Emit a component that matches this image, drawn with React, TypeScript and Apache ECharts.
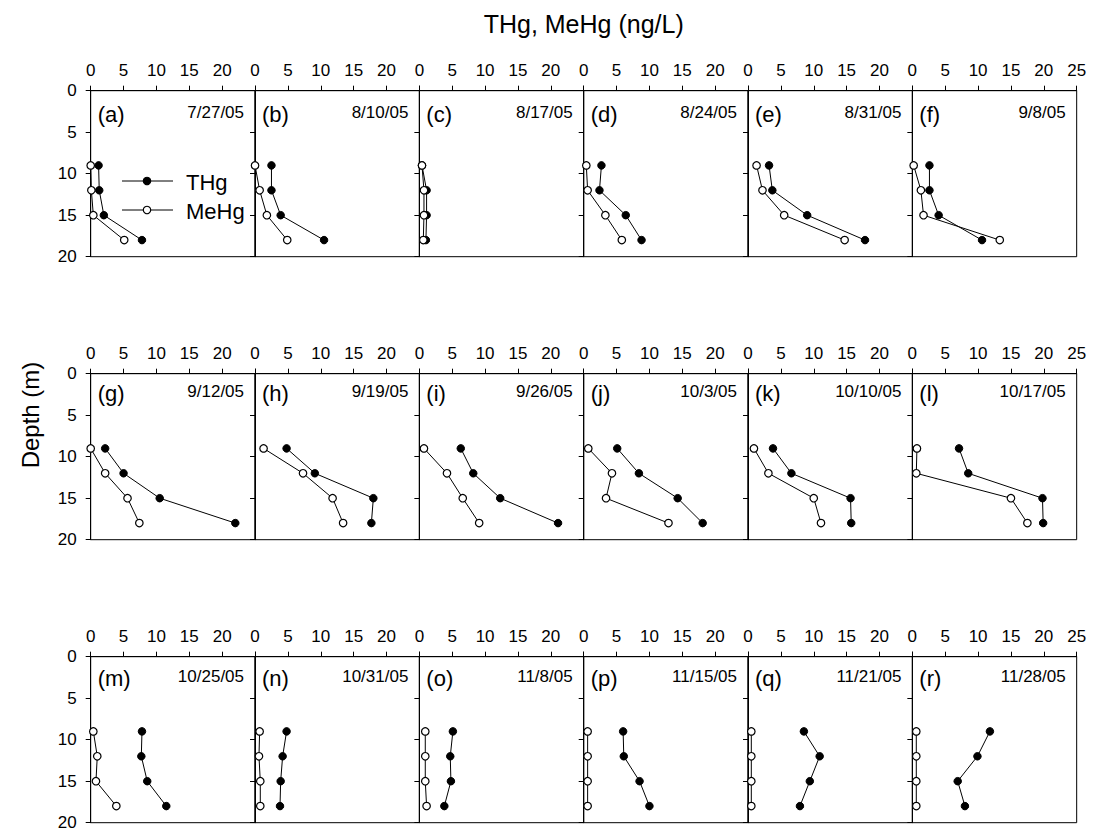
import React, { useEffect, useRef } from "react";
import * as echarts from "echarts";

const depths = [9, 12, 15, 18];
const panelLetters = ["a","b","c","d","e","f","g","h","i","j","k","l","m","n","o","p","q","r"];
const dates = ["7/27/05","8/10/05","8/17/05","8/24/05","8/31/05","9/8/05","9/12/05","9/19/05","9/26/05","10/3/05","10/10/05","10/17/05","10/25/05","10/31/05","11/8/05","11/15/05","11/21/05","11/28/05"];

const thg = [
  [1.2, 1.3, 2.0, 7.8],
  [2.5, 2.5, 3.9, 10.5],
  [0.4, 1.1, 1.1, 1.0],
  [2.7, 2.4, 6.4, 8.8],
  [3.2, 3.7, 9.0, 17.8],
  [2.6, 2.6, 4.0, 10.6],
  [2.2, 5.0, 10.5, 22.0],
  [4.8, 9.1, 18.0, 17.7],
  [6.3, 8.2, 12.3, 21.1],
  [5.1, 8.4, 14.3, 18.1],
  [3.8, 6.6, 15.6, 15.7],
  [7.1, 8.5, 19.8, 19.9],
  [7.8, 7.7, 8.6, 11.5],
  [4.8, 4.2, 3.9, 3.8],
  [5.1, 4.7, 4.8, 3.8],
  [6.0, 6.1, 8.5, 10.0],
  [8.5, 10.9, 9.4, 7.9],
  [11.8, 9.9, 6.9, 8.0],
];
const mehg = [
  [0, 0.1, 0.4, 5.1],
  [0, 0.7, 1.8, 4.9],
  [0.4, 0.7, 0.7, 0.6],
  [0.4, 0.6, 3.3, 5.8],
  [1.3, 2.2, 5.5, 14.7],
  [0.2, 1.3, 1.7, 13.3],
  [0, 2.2, 5.6, 7.4],
  [1.3, 7.3, 11.8, 13.4],
  [0.7, 4.2, 6.6, 9.1],
  [0.7, 4.3, 3.4, 12.9],
  [0.9, 3.1, 10.0, 11.1],
  [0.7, 0.6, 15.0, 17.5],
  [0.4, 1.0, 0.8, 3.9],
  [0.7, 0.6, 0.8, 0.8],
  [0.9, 0.9, 0.9, 1.1],
  [0.6, 0.6, 0.6, 0.6],
  [0.5, 0.5, 0.5, 0.5],
  [0.6, 0.6, 0.6, 0.6],
];
const xTicks = [0, 5, 10, 15, 20, 25];
const yTicks = [0, 5, 10, 15, 20];

const FONT = "'Liberation Sans', Arial, sans-serif";

export default function App() {
  const ref = useRef<HTMLDivElement>(null);
  useEffect(() => {
    document.body.style.margin = "0";
    const chart = echarts.init(ref.current!, null, { renderer: "svg" });
    const left0 = 90.7;
    const pw = 164.33;
    const tops = [90.7, 373.7, 656.7];
    const ph = 166;
    const grids: any[] = [];
    const xAxes: any[] = [];
    const yAxes: any[] = [];
    const series: any[] = [];
    const graphics: any[] = [];
    const labelOff = [24, 20, 22];
    for (let p = 0; p < 18; p++) {
      const row = Math.floor(p / 6);
      const col = p % 6;
      const left = left0 + col * pw;
      const top = tops[row];
      grids.push({ left, top, width: pw, height: ph, show: true, borderColor: "#000", borderWidth: 1, backgroundColor: "transparent" });
      xAxes.push({
        gridIndex: p, type: "value", position: "top", min: xTicks[0], max: xTicks[xTicks.length - 1], interval: 5,
        axisLine: { show: true, lineStyle: { color: "#000", width: 1 } },
        axisTick: { show: true, inside: false, length: 5, lineStyle: { color: "#000" } },
        splitLine: { show: false },
        axisLabel: {
          show: true, color: "#000", fontSize: 17, fontFamily: FONT, margin: 12,
          formatter: (v: number) => (col < 5 && v === 25 ? "" : String(v)),
        },
      });
      yAxes.push({
        gridIndex: p, type: "value", inverse: true, min: yTicks[0], max: yTicks[yTicks.length - 1], interval: 5,
        axisLine: { show: true, onZero: false, lineStyle: { color: "#000", width: 1 } },
        axisTick: { show: true, inside: false, length: 5, lineStyle: { color: "#000" } },
        splitLine: { show: false },
        axisLabel: { show: col === 0, color: "#000", fontSize: 17, fontFamily: FONT, margin: 14 },
      });
      series.push({
        type: "line", xAxisIndex: p, yAxisIndex: p, name: "THg",
        data: depths.map((d, i) => [thg[p][i], d]),
        symbol: "circle", symbolSize: 7.5,
        lineStyle: { color: "#000", width: 1 },
        itemStyle: { color: "#000", borderColor: "#000", borderWidth: 1 },
        clip: false, z: 2,
      });
      series.push({
        type: "line", xAxisIndex: p, yAxisIndex: p, name: "MeHg",
        data: depths.map((d, i) => [mehg[p][i], d]),
        symbol: "circle", symbolSize: 7.5,
        lineStyle: { color: "#000", width: 1 },
        itemStyle: { color: "#fff", borderColor: "#000", borderWidth: 1.2 },
        clip: false, z: 3,
      });
      graphics.push({
        type: "text", x: left + 7, y: top + labelOff[row],
        style: { text: "(" + panelLetters[p] + ")", font: `22px ${FONT}`, fill: "#000", textAlign: "left", textVerticalAlign: "middle" },
      });
      graphics.push({
        type: "text", x: left + pw - 11, y: top + labelOff[row] - 2,
        style: { text: dates[p], font: `17px ${FONT}`, fill: "#000", textAlign: "right", textVerticalAlign: "middle" },
      });
    }
    // legend in panel (a)
    const legendItems = [
      { name: "THg", y: 181, fill: "#000" },
      { name: "MeHg", y: 210, fill: "#fff" },
    ];
    legendItems.forEach((it) => {
      graphics.push({ type: "line", shape: { x1: 122, y1: it.y, x2: 173, y2: it.y }, style: { stroke: "#000", lineWidth: 1 } });
      graphics.push({ type: "circle", shape: { cx: 147, cy: it.y, r: 3.7 }, style: { fill: it.fill, stroke: "#000", lineWidth: 1.2 } });
      graphics.push({ type: "text", x: 186, y: it.y + 1, style: { text: it.name, font: `22px ${FONT}`, fill: "#000", textAlign: "left", textVerticalAlign: "middle" } });
    });
    graphics.push({ type: "text", x: 583.7, y: 24, style: { text: "THg, MeHg (ng/L)", font: `25px ${FONT}`, fill: "#000", textAlign: "center", textVerticalAlign: "middle" } });
    graphics.push({ type: "text", x: 30, y: 415, rotation: Math.PI / 2, style: { text: "Depth (m)", font: `24px ${FONT}`, fill: "#000", textAlign: "center", textVerticalAlign: "middle" } });

    chart.setOption({
      animation: false,
      backgroundColor: "#fff",
      grid: grids,
      xAxis: xAxes,
      yAxis: yAxes,
      series,
      graphic: graphics,
    });
    return () => chart.dispose();
  }, []);
  return <div ref={ref} style={{ width: 1094, height: 832 }} />;
}
